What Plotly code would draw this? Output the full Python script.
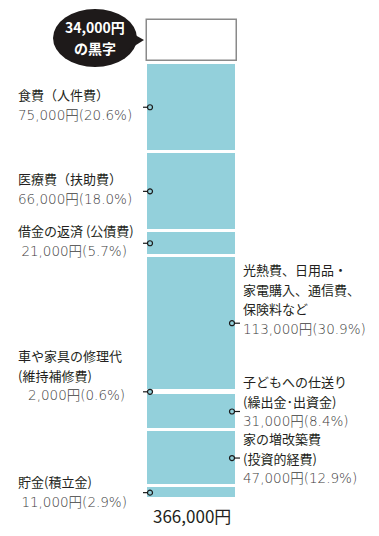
import plotly.graph_objects as go

# ---------------- data ----------------
categories = [
    "食費（人件費）",
    "医療費（扶助費）",
    "借金の返済 (公債費)",
    "光熱費、日用品・<br>家電購入、通信費、<br>保険料など",
    "車や家具の修理代<br>(維持補修費)",
    "子どもへの仕送り<br>(繰出金･出資金)",
    "家の増改築費<br>(投資的経費)",
    "貯金(積立金)",
]
amounts = [75000, 66000, 21000, 113000, 2000, 31000, 47000, 11000]
percents = [20.6, 18.0, 5.7, 30.9, 0.6, 8.4, 12.9, 2.9]
surplus = 34000
surplus_label = ["34,000円", "の黒字"]
total_label = "366,000円"

# ---------------- layout / style ----------------
W, H = 379, 536
BAR_COLOR = "#93D0DB"
NAME_COLOR = "#231f20"
VALUE_COLOR = "#3d3d3d"
FONT = "Noto Sans CJK JP"
VALUE_FONT = "'DejaVu Sans','Noto Sans CJK JP'"
side = ["left", "left", "left", "right", "left", "right", "right", "left"]
# label blocks: (x_left px, y centre px of block, indentation of value line in nbsp)
label_pos = [
    (16.7, 104, 0),
    (16.7, 188, 0),
    (16.7, 240.5, 1),
    (242, 298.5, 0),
    (16.7, 375, 3),
    (242, 400, 0),
    (242, 457.5, 0),
    (16.7, 491.5, 1),
]

total = sum(amounts)
# pixel mapping of value axis: value 0 at y=499.2px, total at y=62.5px
Y0_PX, YT_PX = 499.2, 62.5
unit_per_px = total / (Y0_PX - YT_PX)
y_range = [-(H - Y0_PX) * unit_per_px, Y0_PX * unit_per_px]
BAR_X, BAR_W = 191.5, 91
GAP_PX = 2.0

fig = go.Figure()

# stacked segments (top to bottom in list order)
bases = []
acc = total
for a in amounts:
    acc -= a
    bases.append(acc)

for cat, a, b in zip(categories, amounts, bases):
    fig.add_trace(go.Bar(
        x=[BAR_X], y=[a], base=[b], width=[BAR_W],
        marker=dict(color=BAR_COLOR, line=dict(color="white", width=3)),
        name=cat, hoverinfo="skip", showlegend=False,
    ))

# surplus box on top
fig.add_trace(go.Bar(
    x=[BAR_X], y=[surplus], base=[total + GAP_PX * unit_per_px], width=[BAR_W - 1],
    marker=dict(color="white", line=dict(color="#8a8a8a", width=1.5)),
    hoverinfo="skip", showlegend=False,
))

# leader lines and dots
mids = [b + a / 2 for a, b in zip(amounts, bases)]
lx, ly, dx, dy = [], [], [], []
for s, m in zip(side, mids):
    if s == "left":
        lx += [143, 150, None]
        dx.append(150)
    else:
        lx += [232, 240, None]
        dx.append(232)
    ly += [m, m, None]
    dy.append(m)
fig.add_trace(go.Scatter(x=lx, y=ly, mode="lines", line=dict(color="#1a1a1a", width=1.2),
                         hoverinfo="skip", showlegend=False))
fig.add_trace(go.Scatter(x=dx, y=dy, mode="markers",
                         marker=dict(size=5, color=BAR_COLOR, line=dict(color="#1a1a1a", width=1.2)),
                         hoverinfo="skip", showlegend=False))


def px(x):
    return x / W


def py(y):
    return 1 - y / H


ann = []
name_style = "font-size:13px"
value_style = f"font-family:{VALUE_FONT};font-size:13.5px;font-weight:300;color:{VALUE_COLOR}"
for cat, a, p, (nx, cy, indent) in zip(categories, amounts, percents, label_pos):
    lines = [f'<span style="{name_style}">{ln}</span>' for ln in cat.split("<br>")]
    lines.append("&nbsp;" * indent + f'<span style="{value_style}">{a:,}円({p:.1f}%)</span>')
    ann.append(dict(x=px(nx), y=py(cy), xref="paper", yref="paper", text="<br>".join(lines),
                    showarrow=False, xanchor="left", yanchor="middle", align="left", borderpad=0,
                    font=dict(family=FONT, size=15, color=NAME_COLOR)))

# total below bar
ann.append(dict(x=px(BAR_X), y=py(515), xref="paper", yref="paper", text=total_label,
                showarrow=False, xanchor="center", yanchor="middle",
                font=dict(family=FONT, size=17, color=NAME_COLOR)))

# speech bubble text
ann.append(dict(x=px(95), y=py(37), xref="paper", yref="paper",
                text="<br>".join(f'<b><span style="font-size:14px">{t}</span></b>' for t in surplus_label),
                showarrow=False, xanchor="center", yanchor="middle", align="center", borderpad=0,
                font=dict(family=FONT, size=15.8, color="white")))

shapes = [
    dict(type="circle", xref="paper", yref="paper",
         x0=px(53), x1=px(137), y0=py(67), y1=py(9),
         fillcolor="#1e1a1a", line=dict(width=0), layer="below"),
    dict(type="path", xref="paper", yref="paper",
         path=f"M {px(128)} {py(31)} L {px(144)} {py(40)} L {px(128)} {py(50)} Z",
         fillcolor="#1e1a1a", line=dict(width=0), layer="below"),
]

fig.update_layout(
    width=W, height=H, autosize=False,
    margin=dict(l=0, r=0, t=0, b=0, pad=0),
    paper_bgcolor="white", plot_bgcolor="white",
    barmode="overlay", bargap=0,
    xaxis=dict(range=[0, W], visible=False, fixedrange=True),
    yaxis=dict(range=y_range, visible=False, fixedrange=True),
    annotations=ann, shapes=shapes,
    font=dict(family=FONT),
)

fig.write_html("out.html", config={"displayModeBar": False},
               post_script="document.body.style.margin='0';document.body.style.overflow='hidden';")
